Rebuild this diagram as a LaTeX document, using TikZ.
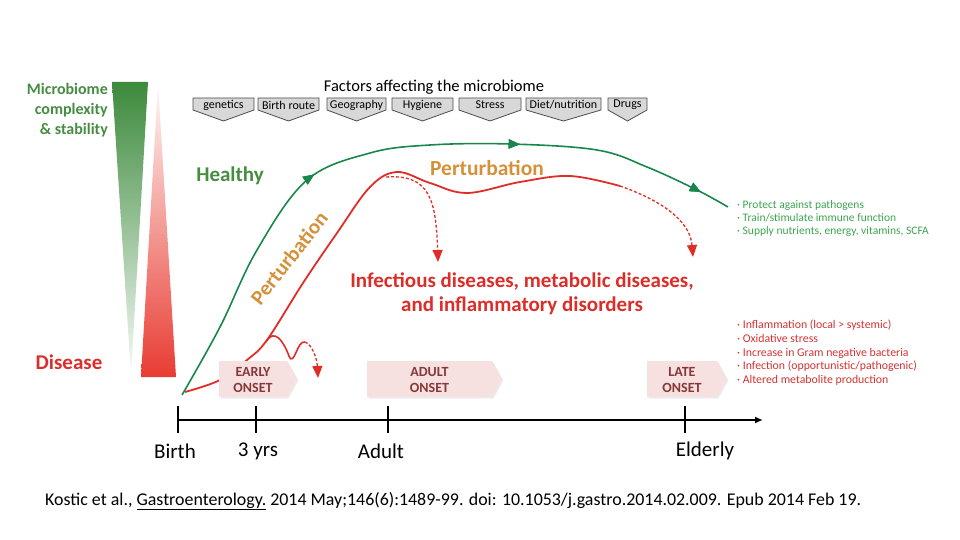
\documentclass[tikz,border=0pt]{standalone}
\usepackage{fontspec}
\setmainfont{Carlito}
\usetikzlibrary{arrows.meta,decorations.markings,shadows}

\definecolor{gText}{RGB}{70,140,65}
\definecolor{gLine}{RGB}{25,135,75}
\definecolor{gTri}{RGB}{60,138,60}
\definecolor{rLine}{RGB}{225,45,40}
\definecolor{rText}{RGB}{220,45,40}
\definecolor{rTri}{RGB}{232,60,50}
\definecolor{oText}{RGB}{212,145,58}
\definecolor{onsetFill}{RGB}{246,224,224}
\definecolor{onsetText}{RGB}{135,55,55}
\definecolor{factorFill}{RGB}{216,216,216}
\definecolor{listGreen}{RGB}{60,165,80}
\definecolor{listRed}{RGB}{210,50,50}

\begin{document}
\begin{tikzpicture}[
	x=1pt, y=-1pt,
	>=Stealth,
	greenline/.style={gLine, line width=1.6pt},
	redline/.style={rLine, line width=1.8pt},
	reddash/.style={rLine, line width=1.3pt, dash pattern=on 3pt off 2pt,
		-{Triangle[length=12pt,width=10pt]}},
	factorbox/.style={draw=gray!60!black, fill=factorFill, line width=0.8pt},
	factortext/.style={font=\fontsize{12}{12}\selectfont, inner sep=0pt},
	onsetbox/.style={fill=onsetFill, drop shadow={opacity=0.15, shadow xshift=1.5pt, shadow yshift=-1.5pt}},
	onsettext/.style={font=\fontsize{14}{16}\selectfont\bfseries, text=onsetText, align=center},
	axislabel/.style={font=\fontsize{21}{21}\selectfont},
	midtip/.style={postaction={decorate}, decoration={markings,
		mark=at position #1 with {\arrow{Triangle[length=11pt,width=9pt]}}}}
	]
\useasboundingbox (0,0) rectangle (960,540);

% gradient bars
\shade[top color=gTri, bottom color=gTri!4] (112,82) -- (148,82) -- (131,375) -- cycle;
\shade[top color=rTri!4, bottom color=rTri] (158,83) -- (176,377) -- (141,377) -- cycle;
\node[anchor=east, align=right, text=gText, font=\fontsize{16}{20}\selectfont\bfseries, inner sep=2pt] (complexity) at (110,110) {Microbiome\\complexity\\\& stability};
\node[text=rText, font=\fontsize{21}{21}\selectfont\bfseries] (disease) at (69,362) {Disease};

% factors
\node[font=\fontsize{16.5}{16.5}\selectfont] (factors) at (434,87) {Factors affecting the microbiome};
\foreach \a/\b/\txt in {193/254/genetics, 258/319/Birth route, 327/386/Geography, 392/453/Hygiene,
	459/521/Stress, 526/601/{Diet/nutrition}, 608/647/Drugs}
{
	\draw[factorbox] (\a,98) -- (\b,98) -- (\b,110) -- ({(\a+\b)/2},121) -- (\a,110) -- cycle;
	\node[factortext] (f\a) at ({(\a+\b)/2},105) {\txt};
}

% curves
\draw[greenline, midtip=0.375, midtip=0.68, midtip=0.955] plot[smooth, tension=0.6] coordinates {
	(182,395) (220,327) (257,250) (307,180) (370,153) (430,145) (510,144) (597,150) (647,167) (697,190) (728,207)};
\draw[redline] plot[smooth, tension=0.6] coordinates {
	(185,392) (220,380) (247,360) (267,340) (303,283) (337,233) (370,187) (397,172) (430,183) (467,193) (520,182) (570,176) (620,186)};
\draw[reddash] (620,186) .. controls (660,200) and (690,220) .. (693,257);
\draw[reddash] (386,177) .. controls (430,174) and (436,200) .. (438,262);
\draw[redline, line width=1.6pt] (266,342) .. controls (274,328) and (283,340) .. (289,356)
	.. controls (294,368) and (297,340) .. (305,342);
\draw[reddash] (305,342) .. controls (313,345) and (317,360) .. (318,378);

\node[text=gText, font=\fontsize{21}{21}\selectfont\bfseries] (healthy) at (230,176) {Healthy};
\node[text=oText, font=\fontsize{21.5}{21.5}\selectfont\bfseries] (pert_top) at (487,168) {Perturbation};
\node[text=oText, font=\fontsize{21}{21}\selectfont\bfseries, rotate=52] (pert_side) at (289,258) {Perturbation};
\node[text=rText, align=center, font=\fontsize{21}{24}\selectfont\bfseries] (outcome) at (522,294)
	{Infectious diseases, metabolic diseases,\\and inflammatory disorders};

% lists
\node[anchor=north west, inner sep=0pt, align=left, text=listGreen, font=\fontsize{11.5}{13}\selectfont] (benefits) at (737,200)
	{· Protect against pathogens\\· Train/stimulate immune function\\· Supply nutrients, energy, vitamins, SCFA};
\node[anchor=north west, inner sep=0pt, align=left, text=listRed, font=\fontsize{11.8}{13.7}\selectfont] (harms) at (737,320)
	{· Inflammation (local > systemic)\\· Oxidative stress\\· Increase in Gram negative bacteria\\· Infection (opportunistic/pathogenic)\\· Altered metabolite production};

% onset boxes
\foreach \a/\b/\n/\txt in {219/287/early/EARLY, 367/492/adult/ADULT, 647/717/late/LATE}
{
	\path[onsetbox] (\a,361) -- (\b,361) -- (\b+10,379) -- (\b,397) -- (\a,397) -- cycle;
	\node[onsettext] (\n) at ({(\a+\b)/2},380) {\txt\\ONSET};
}

% time axis
\coordinate (ax_start) at (178,420);
\coordinate (ax_end) at (763,420);
\draw[line width=1.6pt, -{Latex[length=8pt,width=7pt]}] (ax_start) -- (ax_end);
\foreach \x/\lx/\n/\lab in {178/175/birth/Birth, 256/258/three/3 yrs, 388/381/adultage/Adult, 685/705/elderly/Elderly}
{
	\draw[line width=1.8pt] (\x,406) -- (\x,433);
	\node[axislabel] (\n) at (\lx,451) {\lab};
}

\node[anchor=west, font=\fontsize{17.9}{18}\selectfont, inner sep=0pt] (cite) at (45,501)
	{Kostic et al., \underline{Gastroenterology.} 2014 May;146(6):1489-99. doi: 10.1053/j.gastro.2014.02.009. Epub 2014 Feb 19.};

\end{tikzpicture}
\end{document}
